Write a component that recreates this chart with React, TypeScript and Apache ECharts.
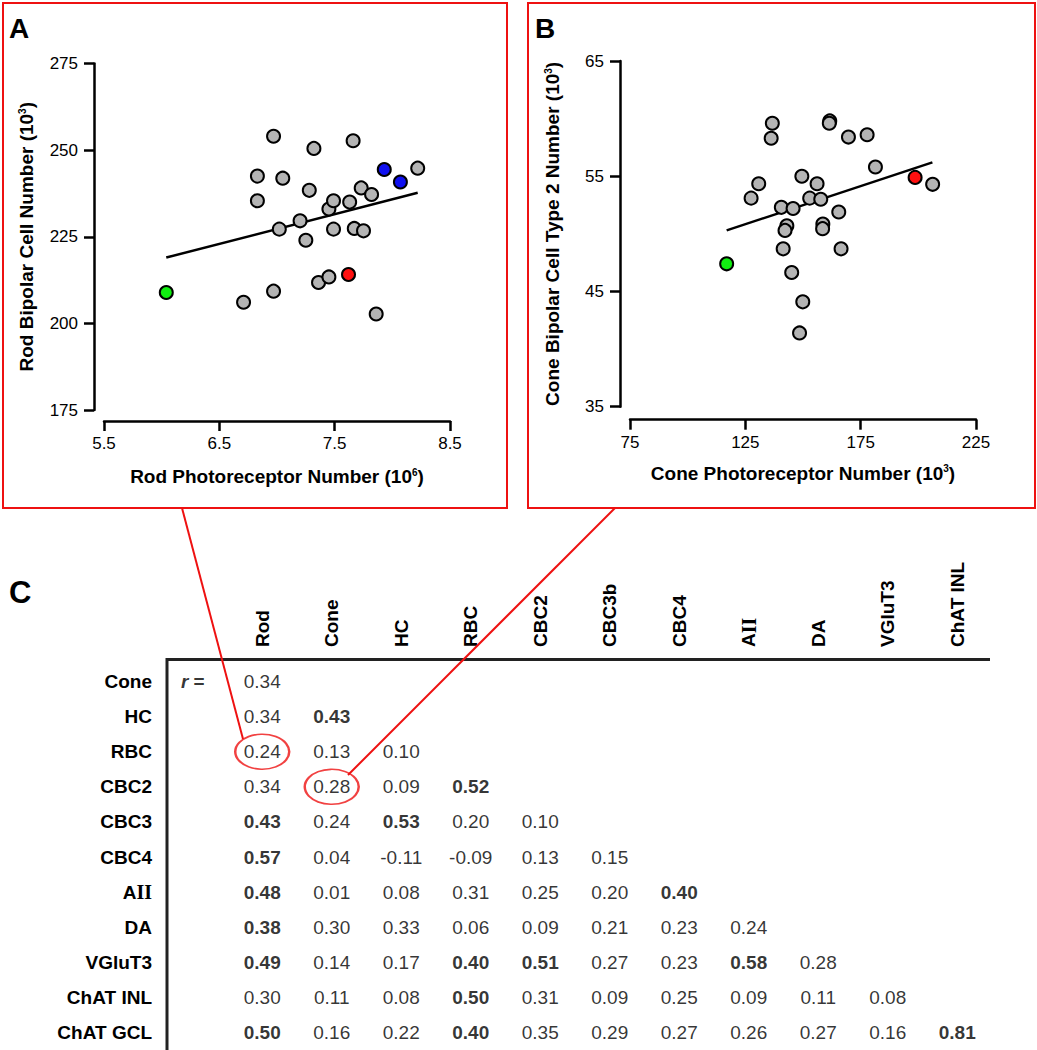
import React, { useEffect, useRef } from 'react';
import * as echarts from 'echarts';

const FONT = '"Liberation Sans", Arial, Helvetica, sans-serif';
const SERIF = '"Liberation Serif", "Times New Roman", serif';

// ---------- Panel A : rod photoreceptors vs rod bipolar cells ----------
const rodPhotoreceptorX = [6.04, 6.71, 6.97, 6.97, 6.83, 6.83, 7.05, 7.02, 7.2, 7.25, 7.28, 7.32, 7.36, 7.45, 7.45, 7.49, 7.49, 7.62, 7.63, 7.66, 7.67, 7.75, 7.73, 7.82, 7.86, 7.93, 8.07, 8.22];
const rodBipolarY = [208.9, 206.1, 209.3, 254.0, 242.5, 235.4, 241.9, 227.2, 229.6, 224.0, 238.4, 250.5, 211.8, 213.4, 233.0, 235.4, 227.2, 214.1, 235.0, 252.7, 227.4, 226.7, 239.1, 237.2, 202.7, 244.4, 240.8, 244.8];
const rodGroup = ['green', 'gray', 'gray', 'gray', 'gray', 'gray', 'gray', 'gray', 'gray', 'gray', 'gray', 'gray', 'gray', 'gray', 'gray', 'gray', 'gray', 'red', 'gray', 'gray', 'gray', 'gray', 'gray', 'gray', 'gray', 'blue', 'blue', 'gray'];
const rodFitLine = [[6.04, 219.0], [8.22, 237.7]];
const rodXTicks = [5.5, 6.5, 7.5, 8.5];
const rodYTicks = [175, 200, 225, 250, 275];

// ---------- Panel B : cone photoreceptors vs cone bipolar type 2 ----------
const conePhotoreceptorX = [116.9, 136.7, 136.2, 130.8, 127.5, 140.6, 145.7, 149.5, 156.1, 152.9, 157.7, 143.0, 142.2, 158.6, 158.5, 165.5, 141.4, 166.5, 145.1, 149.9, 148.5, 161.6, 161.4, 169.7, 177.8, 181.4, 198.6, 206.2];
const coneBipolarY = [47.4, 59.6, 58.3, 54.35, 53.1, 52.3, 52.2, 55.0, 54.35, 53.1, 53.0, 50.7, 50.3, 50.85, 50.45, 51.9, 48.7, 48.7, 46.65, 44.1, 41.4, 59.8, 59.6, 58.4, 58.6, 55.8, 54.9, 54.3];
const coneGroup = ['green', 'gray', 'gray', 'gray', 'gray', 'gray', 'gray', 'gray', 'gray', 'gray', 'gray', 'gray', 'gray', 'gray', 'gray', 'gray', 'gray', 'gray', 'gray', 'gray', 'gray', 'gray', 'gray', 'gray', 'gray', 'gray', 'red', 'gray'];
const coneFitLine = [[116.9, 50.3], [206.1, 56.2]];
const coneXTicks = [75, 125, 175, 225];
const coneYTicks = [35, 45, 55, 65];

// ---------- Panel C : correlation table ----------
const tableColumns = ['Rod', 'Cone', 'HC', 'RBC', 'CBC2', 'CBC3b', 'CBC4', 'AII', 'DA', 'VGluT3', 'ChAT INL'];
const tableRows = ['Cone', 'HC', 'RBC', 'CBC2', 'CBC3', 'CBC4', 'AII', 'DA', 'VGluT3', 'ChAT INL', 'ChAT GCL'];
const rCone = [0.34];
const rHC = [0.34, 0.43];
const rRBC = [0.24, 0.13, 0.10];
const rCBC2 = [0.34, 0.28, 0.09, 0.52];
const rCBC3 = [0.43, 0.24, 0.53, 0.20, 0.10];
const rCBC4 = [0.57, 0.04, -0.11, -0.09, 0.13, 0.15];
const rAII = [0.48, 0.01, 0.08, 0.31, 0.25, 0.20, 0.40];
const rDA = [0.38, 0.30, 0.33, 0.06, 0.09, 0.21, 0.23, 0.24];
const rVGluT3 = [0.49, 0.14, 0.17, 0.40, 0.51, 0.27, 0.23, 0.58, 0.28];
const rChATINL = [0.30, 0.11, 0.08, 0.50, 0.31, 0.09, 0.25, 0.09, 0.11, 0.08];
const rChATGCL = [0.50, 0.16, 0.22, 0.40, 0.35, 0.29, 0.27, 0.26, 0.27, 0.16, 0.81];
const tableValues = [rCone, rHC, rRBC, rCBC2, rCBC3, rCBC4, rAII, rDA, rVGluT3, rChATINL, rChATGCL];
const SIG_R = 0.374; // values at or above this are printed in bold
const circledCells = [['Rod', 'RBC'], ['Cone', 'CBC2']];

const GROUP_COLORS: Record<string, string> = {
  gray: '#b4b4b4',
  green: '#11ee11',
  red: '#ff1010',
  blue: '#1010f0',
};

const supRich = {
  sup: { fontSize: 10, fontFamily: FONT, color: '#000', verticalAlign: 'top', lineHeight: 10, padding: [0, 0, 10, 0] },
};

function valueAxis(grid: number, min: number, max: number, ticks: number[], offset: number, name: string, nameGap: number, labelMargin: number, fmt: (v: number) => string) {
  return {
    gridIndex: grid,
    type: 'value',
    min,
    max,
    offset,
    axisLine: { show: true, onZero: false, lineStyle: { color: '#000', width: 2.5 } },
    axisTick: { show: true, length: 10, customValues: ticks, lineStyle: { color: '#000', width: 2.5 } },
    axisLabel: { customValues: ticks, formatter: fmt, fontSize: 17, color: '#000', fontFamily: FONT, margin: labelMargin },
    splitLine: { show: false },
    name,
    nameLocation: 'middle',
    nameGap,
    nameTextStyle: { fontSize: 19, fontWeight: 'bold', color: '#000', fontFamily: FONT, rich: supRich },
  };
}

function pointData(xs: number[], ys: number[], groups: string[]) {
  return xs.map((x, i) => ({ value: [x, ys[i]], itemStyle: { color: GROUP_COLORS[groups[i]] } }));
}

const headerFormatter = (v: string) => (v === 'AII' ? 'A{ii|II}' : v);
const headerRich = { ii: { fontFamily: SERIF, fontWeight: 'bold', fontSize: 20, color: '#000' } };

export default function App() {
  const ref = useRef<HTMLDivElement>(null);
  useEffect(() => {
    document.body.style.margin = '0';
    if (!ref.current) return;
    const chart = echarts.init(ref.current, undefined, { renderer: 'svg' });

    const tableData: any[] = [];
    tableValues.forEach((row, ri) => {
      row.forEach((v, ci) => {
        tableData.push({
          value: [ci + 1, ri, v],
          label: { fontWeight: v >= SIG_R ? 'bold' : 'normal' },
        });
      });
    });

    const option: any = {
      animation: false,
      backgroundColor: '#fff',
      textStyle: { fontFamily: FONT },
      grid: [
        { left: 104, top: 63.5, width: 346, height: 346.5 },
        { left: 630, top: 61, width: 346, height: 345.7 },
        { left: 158, top: 664, width: 834, height: 388 },
      ],
      xAxis: [
        valueAxis(0, 5.5, 8.5, rodXTicks, 11, 'Rod Photoreceptor Number (10{sup|6})', 46, 14, (v: number) => v.toFixed(1)),
        valueAxis(1, 75, 225, coneXTicks, 13, 'Cone Photoreceptor Number (10{sup|3})', 44, 14, (v: number) => String(v)),
        {
          gridIndex: 2,
          type: 'category',
          position: 'top',
          data: ['', ...tableColumns],
          axisLine: { show: false },
          axisTick: { show: false },
          splitLine: { show: false },
          axisLabel: {
            interval: 0,
            rotate: -90,
            margin: 17,
            fontSize: 19,
            fontWeight: 'bold',
            color: '#000',
            fontFamily: FONT,
            formatter: headerFormatter,
            rich: headerRich,
          },
        },
      ],
      yAxis: [
        valueAxis(0, 175, 275, rodYTicks, 10, 'Rod Bipolar Cell Number (10{sup|3})', 58, 16, (v: number) => String(v)),
        valueAxis(1, 35, 65, coneYTicks, 10, 'Cone Bipolar Cell Type 2 Number (10{sup|3})', 58, 16, (v: number) => String(v)),
        {
          gridIndex: 2,
          type: 'category',
          inverse: true,
          data: tableRows,
          axisLine: { show: false },
          axisTick: { show: false },
          splitLine: { show: false },
          axisLabel: {
            interval: 0,
            margin: 6,
            fontSize: 19,
            fontWeight: 'bold',
            color: '#000',
            fontFamily: FONT,
            formatter: headerFormatter,
            rich: headerRich,
          },
        },
      ],
      series: [
        {
          type: 'line',
          xAxisIndex: 0,
          yAxisIndex: 0,
          data: rodFitLine,
          symbol: 'none',
          silent: true,
          z: 2,
          lineStyle: { color: '#000', width: 2.5 },
        },
        {
          type: 'scatter',
          xAxisIndex: 0,
          yAxisIndex: 0,
          data: pointData(rodPhotoreceptorX, rodBipolarY, rodGroup),
          symbolSize: 13,
          silent: true,
          z: 3,
          itemStyle: { borderColor: '#000', borderWidth: 2, opacity: 1 },
        },
        {
          type: 'line',
          xAxisIndex: 1,
          yAxisIndex: 1,
          data: coneFitLine,
          symbol: 'none',
          silent: true,
          z: 2,
          lineStyle: { color: '#000', width: 2.5 },
        },
        {
          type: 'scatter',
          xAxisIndex: 1,
          yAxisIndex: 1,
          data: pointData(conePhotoreceptorX, coneBipolarY, coneGroup),
          symbolSize: 13,
          silent: true,
          z: 3,
          itemStyle: { borderColor: '#000', borderWidth: 2, opacity: 1 },
        },
        {
          type: 'scatter',
          xAxisIndex: 2,
          yAxisIndex: 2,
          data: tableData,
          symbolSize: 1,
          silent: true,
          itemStyle: { color: 'rgba(0,0,0,0)' },
          label: {
            show: true,
            position: 'inside',
            fontSize: 19,
            color: '#000',
            fontFamily: FONT,
            formatter: (p: any) => p.value[2].toFixed(2),
          },
        },
        {
          type: 'scatter',
          xAxisIndex: 2,
          yAxisIndex: 2,
          data: [[0, 0]],
          symbolSize: 1,
          silent: true,
          itemStyle: { color: 'rgba(0,0,0,0)' },
          label: {
            show: true,
            position: 'inside',
            fontSize: 19,
            fontWeight: 'bold',
            color: '#000',
            fontFamily: FONT,
            formatter: '{i|r} =',
            rich: { i: { fontStyle: 'italic', fontWeight: 'bold', fontSize: 19, fontFamily: FONT, color: '#000' } },
          },
        },
        {
          type: 'scatter',
          xAxisIndex: 2,
          yAxisIndex: 2,
          data: circledCells.map(([c, r]) => [tableColumns.indexOf(c) + 1, tableRows.indexOf(r)]),
          symbol: 'circle',
          symbolSize: [54, 35],
          silent: true,
          z: 5,
          itemStyle: { color: 'rgba(0,0,0,0)', borderColor: '#ee1111', borderWidth: 2 },
        },
      ],
      graphic: [
        { type: 'rect', z: 100, shape: { x: 3, y: 3, width: 504, height: 505 }, style: { fill: 'none', stroke: '#ee1111', lineWidth: 2 } },
        { type: 'rect', z: 100, shape: { x: 528, y: 3, width: 507, height: 505 }, style: { fill: 'none', stroke: '#ee1111', lineWidth: 2 } },
        { type: 'text', z: 100, x: 9, y: 28, style: { text: 'A', fontSize: 28, fontWeight: 'bold', fontFamily: FONT, fill: '#000', verticalAlign: 'middle' } },
        { type: 'text', z: 100, x: 535, y: 28, style: { text: 'B', fontSize: 28, fontWeight: 'bold', fontFamily: FONT, fill: '#000', verticalAlign: 'middle' } },
        { type: 'text', z: 100, x: 9, y: 592, style: { text: 'C', fontSize: 31, fontWeight: 'bold', fontFamily: FONT, fill: '#000', verticalAlign: 'middle' } },
        { type: 'line', z: 90, shape: { x1: 167, y1: 659.5, x2: 990, y2: 659.5 }, style: { stroke: '#222', lineWidth: 3 } },
        { type: 'line', z: 90, shape: { x1: 167, y1: 658, x2: 167, y2: 1050 }, style: { stroke: '#222', lineWidth: 3 } },
        { type: 'line', z: 101, shape: { x1: 182, y1: 508, x2: 243, y2: 739 }, style: { stroke: '#ee1111', lineWidth: 2 } },
        { type: 'line', z: 101, shape: { x1: 615, y1: 508, x2: 348, y2: 775 }, style: { stroke: '#ee1111', lineWidth: 2 } },
      ],
    };
    chart.setOption(option);
    return () => chart.dispose();
  }, []);
  return <div ref={ref} style={{ width: 1037, height: 1050, position: 'absolute', left: 0, top: 0 }} />;
}
